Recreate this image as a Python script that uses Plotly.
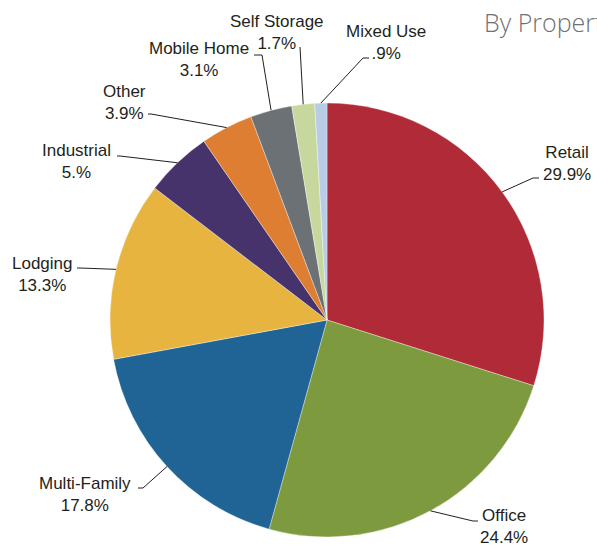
import math
import plotly.graph_objects as go

# Loan share by property type (percent)
categories = ["Retail", "Office", "Multi-Family", "Lodging", "Industrial",
              "Other", "Mobile Home", "Self Storage", "Mixed Use"]
shares = [29.9, 24.4, 17.8, 13.3, 5.0, 3.9, 3.1, 1.7, 0.9]
share_labels = ["29.9%", "24.4%", "17.8%", "13.3%", "5.%", "3.9%", "3.1%", "1.7%", ".9%"]
colors = ["#B02A37", "#7E9A3F", "#1F6494", "#E8B440", "#47336C",
          "#DE7E32", "#6C7175", "#C7D89F", "#B8CDE5"]

W, H = 597, 546
CX, CY, R = 327, 320, 217  # pie centre and radius in pixels

# Label placement (pixels): text centre, elbow of leader, end of leader near text
label_layout = {
    "Retail":       dict(text=(567, 163), elbow=(533, 178), end=(539, 178)),
    "Office":       dict(text=(504, 526), elbow=(473, 521), end=(478, 521)),
    "Multi-Family": dict(text=(85, 494), elbow=(143, 488), end=(138, 488)),
    "Lodging":      dict(text=(42, 274), elbow=(80, 268), end=(77, 268)),
    "Industrial":   dict(text=(76, 161), elbow=(120, 156), end=(117, 156)),
    "Other":        dict(text=(124, 102), elbow=(151, 114), end=(148, 114)),
    "Mobile Home":  dict(text=(199, 59), elbow=(262, 55), end=(254, 55)),
    "Self Storage": dict(text=(277, 32), elbow=(300, 47), end=(300, 47)),
    "Mixed Use":    dict(text=(386, 43), elbow=(363, 58), end=(369, 58)),
}


def px(x):
    return x / W


def py(y):
    return 1 - y / H


fig = go.Figure(go.Pie(
    values=shares,
    labels=categories,
    sort=False,
    direction="clockwise",
    rotation=0,
    marker=dict(colors=colors, line=dict(color="rgba(255,255,255,0.6)", width=0.6)),
    textinfo="none",
    hoverinfo="label+percent",
    showlegend=False,
    domain=dict(x=[px(CX - R), px(CX + R)], y=[py(CY + R), py(CY - R)]),
))

annotations = []
shapes = []
total = sum(shares)
cum = 0.0
for cat, val, lab in zip(categories, shares, share_labels):
    mid = (cum + val / 2) / total * 2 * math.pi
    cum += val
    ex = CX + R * math.sin(mid)
    ey = CY - R * math.cos(mid)
    lay = label_layout[cat]
    pts = [(ex, ey), lay["elbow"], lay["end"]]
    path = "M {} {}".format(px(pts[0][0]), py(pts[0][1]))
    for (x, y) in pts[1:]:
        path += " L {} {}".format(px(x), py(y))
    shapes.append(dict(type="path", xref="paper", yref="paper", path=path,
                       line=dict(color="#231F20", width=1)))
    tx, ty = lay["text"]
    annotations.append(dict(
        x=px(tx), y=py(ty), xref="paper", yref="paper",
        text=f"{cat}<br>{lab}", showarrow=False, align="center",
        xanchor="center", yanchor="middle",
        font=dict(family="Liberation Sans, Arial, sans-serif", size=17, color="#231F20"),
    ))

# Chart heading in the upper right corner
annotations.append(dict(
    x=px(482), y=py(22), xref="paper", yref="paper",
    text="By Property Type", showarrow=False, xanchor="left", yanchor="middle",
    font=dict(family="Open Sans, Liberation Sans, sans-serif", size=25, color="#707174", weight=300),
))

fig.update_layout(
    width=W, height=H,
    margin=dict(l=0, r=0, t=0, b=0),
    paper_bgcolor="white", plot_bgcolor="white",
    annotations=annotations, shapes=shapes,
)

fig.write_html("out.html")
